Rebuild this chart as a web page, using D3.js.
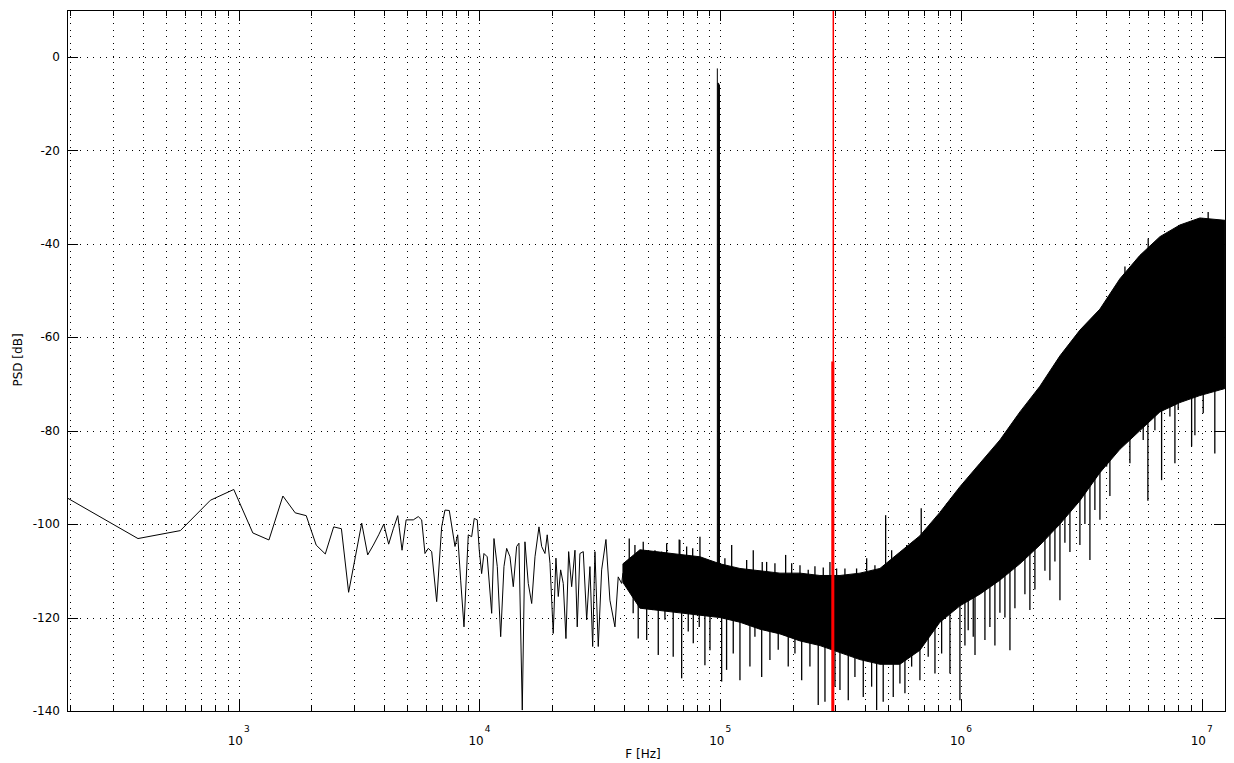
<!DOCTYPE html>
<html><head><meta charset="utf-8">
<script src="https://cdn.jsdelivr.net/npm/d3@7"></script>
<style>body{margin:0;background:#fff} text{font-family:"DejaVu Sans",sans-serif;fill:#000}</style>
</head><body><svg id="c" width="1234" height="763"></svg>
<script>
// ---------- data ----------
// lowest FFT bins (Hz) and their PSD (dB)
const binFreq = [190.7,381.5,572.2,762.9,953.7,1144.4,1335.1,1525.9,1716.6,1907.3,2098,2288.8,2479.5,2670.3,2861,3051.8,3242.5,3433.2,3624,3814.7,4005.4,4196.2,4386.9,4577.6,4768.4,4959.1];
const binDb   = [-94.2,-103.1,-101.4,-94.9,-92.6,-101.9,-103.4,-94,-97.6,-98.2,-104.5,-106.4,-100.6,-101,-114.6,-107,-99.8,-106.6,-104.5,-102.3,-100,-104.3,-101,-98.2,-105.6,-99.1];
// sparse part of the trace (Hz, dB)
const traceFreq = [5311,5569,5753,5939,6130,6332,6642,6966,7190,7493,7913,8120,8355,8625,8985,9282,9515,9793,9980,10210,10440,10770,11240,11490,11860,12250,12640,12970,13390,13820,14270,14590,15060,15450,15950,16480,17010,17670,18130,18710,19120,19630,20250,20780,21250,21740,22290,22870,23470,24150,24930,25480,26140,26990,27880,28770,29530,30180,31150,32180,33530,34830,36540,37710,38960];
const traceDb   = [-99.1,-98.4,-99.1,-106.3,-105.2,-105.9,-116.6,-100.6,-97,-97.1,-104.8,-102.3,-112,-122,-102.3,-102.7,-98.8,-99.1,-105.6,-110.6,-106.3,-107,-119.1,-103.1,-109.1,-124.1,-109.1,-105.2,-107,-113.4,-104.8,-104.1,-139.8,-103.8,-112.7,-117,-107,-100.6,-104.8,-106.3,-102.3,-108.4,-123.4,-107.3,-115.5,-109.8,-112.7,-124.5,-105.9,-113.4,-105.6,-122,-106.3,-105.9,-120.5,-109.1,-126.2,-105.9,-126.2,-109.8,-103.3,-116.3,-122,-111.3,-112.7];
// dense part: solid band between upper and lower envelopes
const bandFreq = [39.45e3,46.4e3,56.2e3,68.0e3,82.4e3,99.7e3,120.8e3,146.3e3,177.1e3,214.5e3,259.6e3,314.4e3,380.6e3,460.8e3,557.9e3,675.5e3,817.7e3,990.4e3,1.199e6,1.452e6,1.758e6,2.129e6,2.578e6,3.120e6,3.779e6,4.575e6,5.539e6,6.707e6,8.121e6,9.83e6,12.49e6];
const bandTop  = [-108.5,-105.5,-106,-106.5,-107,-108.5,-109.5,-110,-110.5,-110.5,-111,-111,-110.5,-109.5,-106,-102.5,-97.5,-92,-87,-82,-76,-70.5,-64,-58.5,-54,-47.5,-42.5,-38.5,-36,-34.5,-35];
const bandBot  = [-112.5,-118,-118.5,-119,-119.5,-120,-121,-122.5,-123.5,-125,-126,-127.5,-129,-130,-130,-127,-121,-117.5,-115,-112,-108.5,-104.5,-100,-95,-89,-84,-80,-76,-74,-72.5,-71];
// isolated spikes sticking out of the band (Hz, tip dB)
const spikeFreq = [
  40.87e3,41.9e3,43.5e3,44.24e3,45.65e3,47.9e3,49.5e3,51.08e3,52.41e3,53.58e3,55.3e3,57.12e3,58.95e3,59.92e3,63.8e3,67.56e3,68.0e3,69.15e3,72.54e3,73.67e3,76.86e3,77.3e3,81.85e3,82.4e3,86.4e3,87.84e3,90.7e3,92.13e3,101.4e3,104.6e3,106.3e3,
  111.6e3,113.3e3,118.9e3,120.8e3,126.7e3,128.8e3,132.9e3,137.2e3,139.4e3,148.7e3,149.5e3,155.9e3,160.9e3,168.8e3,174.2e3,187.0e3,191.7e3,198.1e3,204.4e3,214.5e3,218.0e3,232.1e3,235.9e3,247.5e3,255.4e3,268.0e3,272.4e3,285.7e3,299.7e3,304.5e3,314.4e3,329.7e3,340.4e3,362.8e3,368.6e3,392.9e3,405.9e3,425.6e3,439.3e3,446.5e3,475.5e3,486.6e3,515.4e3,523.4e3,557.9e3,585.3e3,595e3,624.1e3,633.6e3,675.5e3,684.0e3,720.1e3,731.2e3,780.0e3,792.6e3,831.4e3,872.0e3,900.2e3,928.9e3,990.4e3,1.072e6,1.125e6,
  1.039e6,1.144e6,1.258e6,1.319e6,1.384e6,1.452e6,1.523e6,1.598e6,1.676e6,1.844e6,1.934e6,2.029e6,2.233e6,2.342e6,2.457e6,2.578e6,2.703e6,2.836e6,3.120e6,3.273e6,3.434e6,3.601e6,3.779e6,3.840e6,4.029e6,4.157e6,4.361e6,4.650e6,4.800e6,5.034e6,5.281e6,5.717e6,5.978e6,5.996e6,6.194e6,6.393e6,6.816e6,7.379e6,7.742e6,7.989e6,8.518e6,9.083e6,9.372e6,1.015e7,1.064e7,1.134e7,1.210e7];
const spikeDb   = [
  -113.4,-103.1,-119.1,-104.5,-124.5,-103.8,-124.8,-106.6,-118.4,-105.6,-128,-105.9,-120.5,-104.1,-128.4,-103.3,-103.4,-133,-104.8,-123,-105.2,-125.5,-122,-102.7,-130.2,-108.4,-127,-109.1,-133.7,-107.3,-131.2,
  -104.5,-127.7,-109.5,-133.4,-120.5,-107.7,-130.5,-105.6,-124.1,-132.7,-108.1,-108.1,-129.1,-108.4,-126.9,-106.6,-130.5,-108.4,-127.7,-108.8,-133.4,-109.8,-130.5,-109,-138.7,-109.3,-138,-108.1,-134.8,-109.5,-135.5,-109.5,-137.7,-132.7,-109.5,-137,-107.3,-134.8,-108.8,-139.8,-138,-98.1,-105.6,-137,-134.1,-136.2,-104.5,-130.5,-103.8,-133.4,-96.6,-101.3,-128.4,-132,-98.4,-127.7,-95.6,-132,-94.2,-137.7,-122.7,-124.1,
  -126,-128,-124.8,-122,-126,-119,-120,-127,-118,-115,-118.4,-114,-110,-112,-108,-116.3,-104,-106,-104.5,-100,-107.7,-97,-99.1,-84.9,-87.7,-94,-76.3,-74.9,-44.9,-87,-75.6,-82,-95,-38.9,-69.2,-79.9,-90.6,-77,-87,-75.6,-70.6,-83.4,-81,-76.3,-33.2,-84.9,-71.3];
// carrier tone near 100 kHz
const toneFreq = [97.3e3,97.8e3,98.3e3,98.8e3,99.3e3];
const toneDb   = [-2.5,-5.6,-5.6,-5.8,-6.0];
// red marker
const markerFreq = [295e3];
const redFreq = [295e3];
const redDb = [-65.2];
const yTickVals = [-140,-120,-100,-80,-60,-40,-20,0];
const xMajorVals = [1e3,1e4,1e5,1e6,1e7];
const xMajorExp = ["3","4","5","6","7"];
const xLabel = "F [Hz]";
const yLabel = "PSD [dB]";

// ---------- chart ----------
const L=67,R=1225,T=10,B=711;
const svg=d3.select("#c");
svg.append("rect").attr("width",1234).attr("height",763).attr("fill","#fff");
const x=d3.scaleLog().domain([193.5,12.5e6]).range([L,R]);
const y=d3.scaleLinear().domain([-140,10]).range([B,T]);

svg.append("defs").append("clipPath").attr("id","clip").append("rect")
  .attr("x",L).attr("y",T).attr("width",R-L).attr("height",B-T);

// grid
const minor=x.ticks();
const gg=svg.append("g").attr("stroke","#000").attr("stroke-width",1).attr("stroke-dasharray","1,5.5").attr("shape-rendering","crispEdges");
gg.selectAll(".gv").data(minor).join("line")
  .attr("x1",d=>Math.round(x(d))+0.5).attr("x2",d=>Math.round(x(d))+0.5).attr("y1",T).attr("y2",B);
gg.selectAll(".gh").data(yTickVals.filter(v=>v>-140)).join("line")
  .attr("y1",d=>Math.round(y(d))+0.5).attr("y2",d=>Math.round(y(d))+0.5).attr("x1",L).attr("x2",R);

const plot=svg.append("g").attr("clip-path","url(#clip)");

// band
const band=bandFreq.map((f,i)=>({f,t:bandTop[i],b:bandBot[i]}));
plot.append("path").datum(band).attr("fill","#000").attr("stroke","#000").attr("stroke-width",1)
  .attr("d",d3.area().x(d=>x(d.f)).y0(d=>y(d.b)).y1(d=>y(d.t)));

// trace line
const trace=binFreq.map((f,i)=>({f,v:binDb[i]})).concat(traceFreq.map((f,i)=>({f,v:traceDb[i]})));
trace.push({f:bandFreq[0],v:(bandTop[0]+bandBot[0])/2});
plot.append("path").datum(trace).attr("fill","none").attr("stroke","#000").attr("stroke-width",1)
  .attr("d",d3.line().x(d=>x(d.f)).y(d=>y(d.v)));

// spikes, from the band middle to tip
const bis=d3.bisector(d=>d.f).left;
function mid(f){
  const i=Math.max(1,Math.min(band.length-1,bis(band,f)));
  const a=band[i-1],b=band[i];
  const t=(Math.log(f)-Math.log(a.f))/(Math.log(b.f)-Math.log(a.f));
  return ((a.t+a.b)/2)*(1-t)+((b.t+b.b)/2)*t;
}
plot.selectAll(".sp").data(spikeFreq.map((f,i)=>({f,v:spikeDb[i]}))).join("line")
  .attr("stroke","#000").attr("stroke-width",1.3)
  .attr("x1",d=>x(d.f)).attr("x2",d=>x(d.f)).attr("y1",d=>y(d.v)).attr("y2",d=>y(mid(d.f)));
plot.selectAll(".tn").data(toneFreq.map((f,i)=>({f,v:toneDb[i]}))).join("line")
  .attr("stroke","#000").attr("stroke-width",1)
  .attr("x1",d=>x(d.f)).attr("x2",d=>x(d.f)).attr("y1",d=>y(d.v)).attr("y2",d=>y(mid(d.f)));

// red
plot.selectAll(".mk").data(markerFreq).join("line").attr("stroke","#f00").attr("stroke-width",1.5)
  .attr("x1",d=>x(d)).attr("x2",d=>x(d)).attr("y1",T).attr("y2",B);
plot.selectAll(".rd").data(redFreq.map((f,i)=>({f,v:redDb[i]}))).join("line").attr("stroke","#f00").attr("stroke-width",3)
  .attr("x1",d=>x(d.f)-0.5).attr("x2",d=>x(d.f)-0.5).attr("y1",d=>y(d.v)).attr("y2",B);

// axes box + ticks
const ax=svg.append("g").attr("stroke","#000").attr("stroke-width",1).attr("shape-rendering","crispEdges");
ax.append("rect").attr("x",L).attr("y",T).attr("width",R-L).attr("height",B-T).attr("fill","none");
const isMajor=d=>xMajorVals.includes(d);
function tickAxis(gen,tr){
  const g=svg.append("g").attr("transform",tr).call(gen);
  g.select(".domain").remove();
  g.selectAll("text").remove();
  g.selectAll("line").attr("stroke","#000").attr("shape-rendering","crispEdges");
  return g;
}
tickAxis(d3.axisBottom(x).tickValues(minor.filter(d=>!isMajor(d))).tickSize(-6),`translate(0,${B})`);
tickAxis(d3.axisBottom(x).tickValues(xMajorVals).tickSize(-11),`translate(0,${B})`);
tickAxis(d3.axisTop(x).tickValues(minor.filter(d=>!isMajor(d))).tickSize(-6),`translate(0,${T})`);
tickAxis(d3.axisTop(x).tickValues(xMajorVals).tickSize(-11),`translate(0,${T})`);
tickAxis(d3.axisLeft(y).tickValues(yTickVals).tickSize(-11),`translate(${L},0)`);
tickAxis(d3.axisRight(y).tickValues(yTickVals).tickSize(-11),`translate(${R},0)`);

// labels
svg.append("g").selectAll("text").data(yTickVals).join("text")
  .attr("x",60).attr("y",d=>y(d)).attr("dy","0.36em").attr("text-anchor","end")
  .attr("font-size",12).text(d=>d);
const xl=svg.append("g").selectAll("text").data(xMajorVals).join("text")
  .attr("x",d=>x(d)).attr("y",745).attr("text-anchor","middle").attr("font-size",12);
xl.append("tspan").text("10");
xl.append("tspan").attr("dy",-13).attr("dx",1).attr("font-size",9).text((d,i)=>xMajorExp[i]);
svg.append("text").attr("x",643).attr("y",758).attr("text-anchor","middle").attr("font-size",12).text(xLabel);
svg.append("text").attr("transform","translate(22,360) rotate(-90)").attr("text-anchor","middle").attr("font-size",12).text(yLabel);
</script></body></html>
